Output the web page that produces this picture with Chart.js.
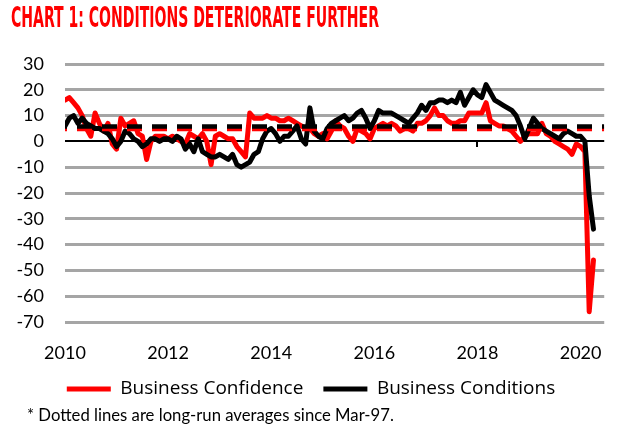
<!DOCTYPE html>
<html><head><meta charset="utf-8">
<script src="https://cdn.jsdelivr.net/npm/chart.js@4.4.1/dist/chart.umd.min.js"></script>
<style>
html,body{margin:0;padding:0;background:#fff;}
#wrap{position:relative;width:622px;height:444px;overflow:hidden;}
canvas{position:absolute;left:0;top:0;}
#title{position:absolute;left:11px;top:4px;font-family:"Liberation Sans Narrow","DejaVu Sans Condensed",sans-serif;font-weight:bold;font-size:28px;line-height:1;color:#ff0000;white-space:nowrap;transform-origin:0 0;}
#note{position:absolute;left:27px;top:407px;font-family:Lato,"Open Sans",sans-serif;font-size:16.7px;line-height:1;color:#000;white-space:nowrap;}
</style></head><body>
<div id="wrap"><canvas id="c" width="622" height="444"></canvas><div id="title">CHART 1: CONDITIONS DETERIORATE FURTHER</div><div id="note"></div></div>
<script>
// Monthly data, Jan-2010 (index 0) to Apr-2020 (index 123)
const startYear = 2010;
const xTickLabels = ['2010', '2012', '2014', '2016', '2018', '2020'];
const seriesNames = ['Business Confidence', 'Business Conditions'];
const confidence = [
  16, 17, 15, 13, 10, 5, 2, 11, 7, 4, 7, -1,
  -3, 9, 6, 7, 8, 3, 2, -7, 0, 2, 2, 2,
  1, 2, 1, 0, -1, 3, 2, 1, 3, 0, -9, 2,
  3, 2, 1, 1, -2, -4, -6, 11, 9, 9, 9, 10,
  9, 9, 8, 8, 9, 8, 7, 6, 5, 5, 3, 2,
  3, 1, 4, 8, 6, 5, 2, 0, 5, 4, 3, 1,
  5, 6, 7, 6, 7, 6, 4, 5, 5, 4, 7, 7,
  8, 10, 13, 10, 10, 8, 7, 7, 8, 8, 11, 11,
  11, 11, 15, 8, 7, 6, 6, 5, 4, 2, 0, 2,
  3, 3, 3, 7, 3, 2, 0, -1, -2, -3, -5, -1,
  -2, -4, -66, -46
];
const conditions = [
  6, 9, 10, 7, 9, 7, 6, 5, 5, 4, 3, 1,
  -2, 0, 4, 3, 1, 0, -2, -1, 1, 1, 0, 1,
  1, 0, 2, 1, -3, -1, -4, 1, -4, -5, -6, -6,
  -5, -6, -7, -5, -9, -10, -9, -8, -5, -4, 1, 4,
  5, 3, 0, 2, 2, 4, 6, 1, -1, 13, 4, 2,
  1, 5, 7, 8, 9, 10, 8, 9, 11, 12, 9, 5,
  8, 12, 11, 11, 11, 10, 9, 8, 7, 9, 11, 14,
  12, 15, 15, 16, 16, 15, 16, 15, 19, 14, 17, 20,
  18, 17, 22, 19, 16, 15, 14, 13, 12, 10, 6, 1,
  5, 9, 7, 5, 4, 3, 2, 1, 3, 4, 3, 2,
  2, 0, -21, -34
];
const confidenceAvg = 4.8;   // long-run average since Mar-97
const conditionsAvg = 5.8;   // long-run average since Mar-97
const yMin = -70, yMax = 30, yStep = 10;
const xMaxIndex = 125.5;
const markedTickIndex = 96; // Jan-2018
const footnote = '* Dotted lines are long-run averages since Mar-97.';

const toPoints = arr => arr.map((v, i) => ({x: i, y: v}));
const flat = v => [{x: 0, y: v}, {x: xMaxIndex, y: v}];
const FONT = 'Lato, "Open Sans", sans-serif';
const LEGEND_FONT = '"Open Sans", Lato, sans-serif';

function fitTitle() {
  const t = document.getElementById('title');
  const w = t.getBoundingClientRect().width;
  t.style.transform = 'scaleX(' + (368 / w) + ')';
}

function build() {
  fitTitle();
  document.getElementById('note').textContent = footnote;
  new Chart(document.getElementById('c'), {
    type: 'line',
    data: {
      datasets: [
        {label: seriesNames[0], data: toPoints(confidence), borderColor: '#ff0000', backgroundColor: '#ff0000',
         borderWidth: 5, pointRadius: 0, borderJoinStyle: 'round', borderCapStyle: 'round', order: 4},
        {label: seriesNames[1], data: toPoints(conditions), borderColor: '#000000', backgroundColor: '#000000',
         borderWidth: 5, pointRadius: 0, borderJoinStyle: 'round', borderCapStyle: 'round', order: 3},
        {label: 'avgConf', data: flat(confidenceAvg), borderColor: '#ff0000', borderWidth: 4.5, pointRadius: 0,
         borderDash: [15, 10], borderDashOffset: 13, order: 2},
        {label: 'avgCond', data: flat(conditionsAvg), borderColor: '#000000', borderWidth: 4.5, pointRadius: 0,
         borderDash: [15, 10], borderDashOffset: 13, order: 1}
      ]
    },
    options: {
      responsive: false,
      animation: false,
      devicePixelRatio: 1,
      layout: {padding: {left: 12, right: 12, top: 64, bottom: 35.5}},
      scales: {
        x: {
          type: 'linear', min: 0, max: xMaxIndex,
          grid: {display: false, drawTicks: false},
          border: {display: false},
          afterBuildTicks: s => { s.ticks = xTickLabels.map(l => ({value: (parseInt(l, 10) - startYear) * 12})); },
          afterFit: s => { s.height = 37.5; },
          ticks: {
            padding: 20, color: '#000', font: {family: FONT, size: 18},
            maxRotation: 0, autoSkip: false,
            callback: v => String(startYear + v / 12)
          }
        },
        xt: {
          type: 'linear', min: 0, max: xMaxIndex, position: {y: 0},
          afterBuildTicks: s => { s.ticks = [{value: markedTickIndex}]; },
          afterFit: s => { s.height = 0; },
          grid: {drawOnChartArea: false, drawTicks: true, tickLength: 6, color: '#000', lineWidth: 2},
          border: {display: false},
          ticks: {display: false}
        },
        y: {
          min: yMin, max: yMax,
          afterFit: s => { s.width = 53; },
          border: {display: false},
          grid: {
            drawTicks: false,
            color: c => c.tick.value === 0 ? '#000000' : '#a5a5a5',
            lineWidth: c => c.tick.value === 0 ? 2 : 3
          },
          ticks: {stepSize: yStep, padding: 21, color: '#000', font: {family: FONT, size: 18},
                  callback: v => String(v)}
        }
      },
      plugins: {
        legend: {
          position: 'bottom',
          labels: {
            usePointStyle: true, pointStyle: 'line', pointStyleWidth: 44,
            padding: 20, color: '#000', font: {family: LEGEND_FONT, size: 19},
            filter: it => it.datasetIndex < 2,
            sort: (a, b) => a.datasetIndex - b.datasetIndex
          }
        },
        title: {display: false},
        tooltip: {enabled: false}
      }
    }
  });
}
if (document.fonts && document.fonts.load) {
  Promise.all([
    document.fonts.load('bold 28px "Liberation Sans Narrow"'),
    document.fonts.load('18px Lato'), document.fonts.load('19px "Open Sans"')
  ]).then(build, build);
} else { build(); }
</script>
</body></html>
